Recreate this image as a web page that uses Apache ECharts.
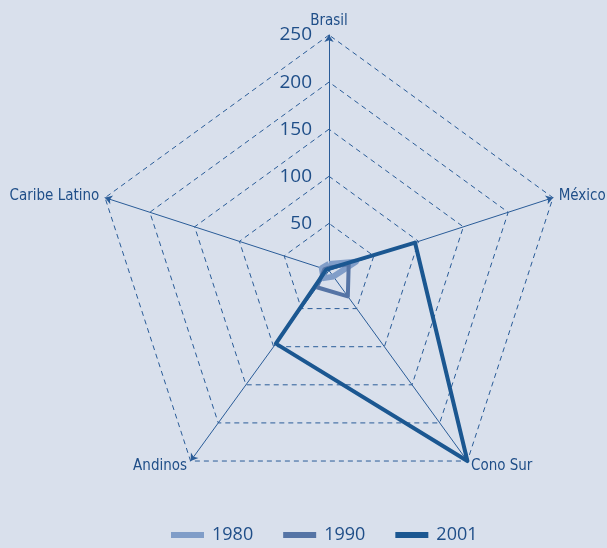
<!DOCTYPE html>
<html><head><meta charset="utf-8">
<script src="https://cdn.jsdelivr.net/npm/echarts@6/dist/echarts.min.js"></script>
<style>html,body{margin:0;padding:0;background:#d9e0ec;}#c{width:607px;height:548px;}</style>
</head><body><div id="c"></div>
<script>
// order as ECharts lays out radar indicators (counter-clockwise from top)
const categories = ['Brasil', 'Caribe Latino', 'Andinos', 'Cono Sur', 'México'];
const seriesNames = ['1980', '1990', '2001'];
const v1980 = [7, 8, 10, 8, 30];
const v1990 = [3, 5, 22, 34, 22];
const v2001 = [2, 3, 96, 250, 96];
const tickLabels = [0, 50, 100, 150, 200, 250];
const maxValue = 250;

const colors = ['#809dc8', '#5574a5', '#1b5791'];
const txt = '#1f4e88';
const nameFont = "'DejaVu Sans Condensed', Roboto, sans-serif";
const chart = echarts.init(document.getElementById('c'));
chart.setOption({
  backgroundColor: '#d9e0ec',
  animation: false,
  legend: {
    bottom: -1, left: 166, itemWidth: 33, itemHeight: 6, itemGap: 30, icon: 'rect',
    textStyle: { color: txt, fontSize: 18, fontFamily: 'Open Sans', padding: [0, 0, 0, 3] },
    data: seriesNames
  },
  grid: { left: 329, top: 35, height: 235.5, width: 10 },
  xAxis: { type: 'value', show: false },
  yAxis: {
    type: 'value', min: tickLabels[0], max: maxValue, interval: 50,
    axisLine: { show: false }, axisTick: { show: false }, splitLine: { show: false },
    axisLabel: { color: txt, fontSize: 19, fontFamily: 'Open Sans', margin: 17,
      formatter: v => (v === 0 ? '' : String(v)) }
  },
  radar: {
    center: [329, 270.5], radius: 235.5, shape: 'polygon', splitNumber: 5,
    startAngle: 90,
    indicator: categories.map(n => ({ name: n, max: maxValue, min: 0 })),
    axisName: { color: txt, fontSize: 15, fontFamily: nameFont },
    nameGap: 6,
    axisLine: { lineStyle: { color: '#2a5c98', width: 1 }, symbol: ['none', 'arrow'], symbolSize: [7, 7] },
    splitLine: { lineStyle: { color: '#2a5c98', type: [5, 4], width: 1 } },
    splitArea: { show: false },
    axisLabel: { show: false }
  },
  series: [{
    type: 'radar', symbol: 'none',
    data: [
      { name: seriesNames[0], value: v1980, lineStyle: { color: colors[0], width: 6 }, itemStyle: { color: colors[0] } },
      { name: seriesNames[1], value: v1990, lineStyle: { color: colors[1], width: 4 }, itemStyle: { color: colors[1] } },
      { name: seriesNames[2], value: v2001, lineStyle: { color: colors[2], width: 4 }, itemStyle: { color: colors[2] } }
    ]
  }]
});
</script></body></html>
